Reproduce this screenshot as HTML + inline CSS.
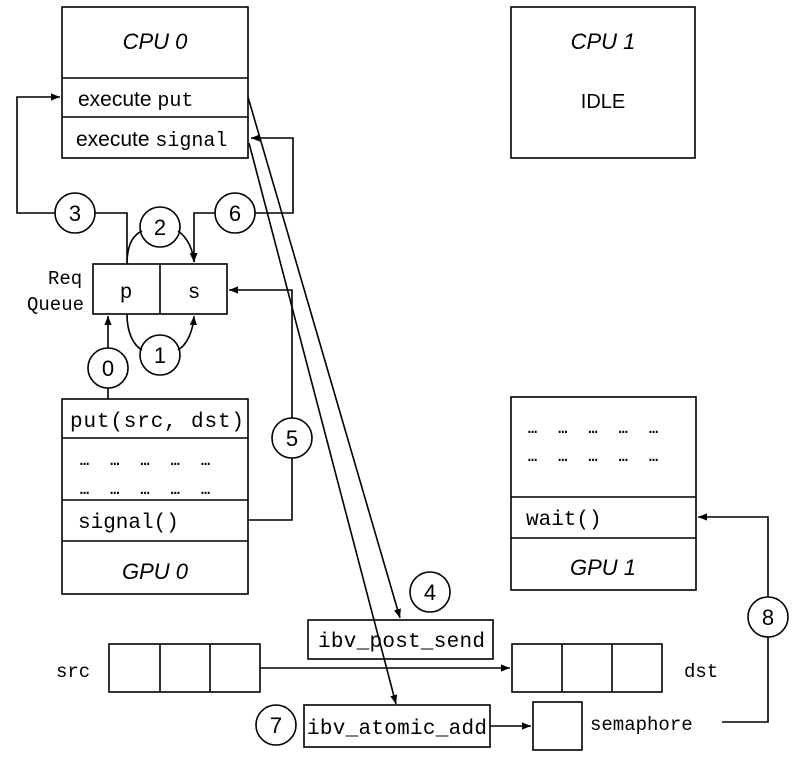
<!DOCTYPE html>
<html><head><meta charset="utf-8"><style>
body{margin:0;background:#fff}
svg{display:block}
.m{font-family:"Liberation Mono",monospace;font-size:21px}
.s{font-family:"Liberation Sans",sans-serif;font-size:21px}
.i{font-family:"Liberation Sans",sans-serif;font-size:22px;font-style:italic}
.c{font-family:"Liberation Sans",sans-serif;font-size:22px}
.d{font-family:"Liberation Mono",monospace;font-size:15px;font-weight:bold}
</style></head><body>
<svg width="796" height="760" viewBox="0 0 796 760" xmlns="http://www.w3.org/2000/svg">
<defs>
<marker id="a" viewBox="0 0 10 10" refX="10" refY="5" markerWidth="9" markerHeight="9" orient="auto" markerUnits="userSpaceOnUse"><path d="M0,1 L10,5 L0,9 z" fill="#000"/></marker>
</defs>
<g fill="none" stroke="#000" stroke-width="1.6">
<rect x="62" y="7" width="186" height="151" fill="#fff"/>
<line x1="62" y1="78" x2="248" y2="78"/>
<line x1="62" y1="117" x2="248" y2="117"/>
<rect x="511" y="7" width="184" height="151"/>
<rect x="93" y="264" width="134" height="50"/>
<line x1="160" y1="264" x2="160" y2="314"/>
<rect x="62" y="399" width="186" height="195"/>
<line x1="62" y1="438" x2="248" y2="438"/>
<line x1="62" y1="500" x2="248" y2="500"/>
<line x1="62" y1="541" x2="248" y2="541"/>
<rect x="511" y="397" width="185" height="193"/>
<line x1="511" y1="497" x2="696" y2="497"/>
<line x1="511" y1="538" x2="696" y2="538"/>
<rect x="109" y="644" width="151" height="48"/>
<line x1="160" y1="644" x2="160" y2="692"/><line x1="210" y1="644" x2="210" y2="692"/>
<rect x="512" y="644" width="150" height="48"/>
<line x1="562" y1="644" x2="562" y2="692"/><line x1="612" y1="644" x2="612" y2="692"/>
<rect x="533" y="702" width="49" height="48"/>
<rect x="308" y="620" width="185" height="39"/>
<rect x="304" y="705" width="186" height="42"/>
<circle cx="75" cy="213" r="20"/><circle cx="160" cy="227" r="20"/><circle cx="235" cy="213" r="20"/>
<circle cx="160" cy="355" r="20"/><circle cx="108" cy="368" r="20"/><circle cx="292" cy="438" r="20"/>
<circle cx="430" cy="592" r="20"/><circle cx="276" cy="725" r="20"/><circle cx="768" cy="617" r="20"/>
<polyline points="55,213 17,213 17,97 60,97" marker-end="url(#a)"/>
<polyline points="95,213 127,213 127,264"/>
<polyline points="215,213 194,213 194,262" marker-end="url(#a)"/>
<polyline points="255,213 293,213 293,138 251,138" marker-end="url(#a)"/>
<path d="M127,264 C127,245 133,235 142,231"/>
<path d="M178,231 C188,238 193,250 194,262" marker-end="url(#a)"/>
<path d="M127,314 C127,332 133,345 142,350"/>
<path d="M178,350 C188,344 193,330 194,316" marker-end="url(#a)"/>
<line x1="108" y1="348" x2="108" y2="316" marker-end="url(#a)"/>
<line x1="108" y1="388" x2="108" y2="399"/>
<polyline points="248,520 292,520 292,458"/>
<polyline points="292,418 292,290 229,290" marker-end="url(#a)"/>
<line x1="248" y1="97" x2="400" y2="618" marker-end="url(#a)"/>
<line x1="249" y1="143" x2="396" y2="704" marker-end="url(#a)"/>
<line x1="260" y1="668" x2="510" y2="668" marker-end="url(#a)"/>
<line x1="490" y1="726" x2="531" y2="726" marker-end="url(#a)"/>
<polyline points="722,722 768,722 768,637"/>
<polyline points="768,597 768,517 698,517" marker-end="url(#a)"/>
</g>
<g fill="#000">
<text class="i" x="155" y="49" text-anchor="middle">CPU 0</text>
<text class="i" x="603" y="49" text-anchor="middle">CPU 1</text>
<text class="s" x="603" y="108" text-anchor="middle" style="font-size:20px">IDLE</text>
<text class="s" x="78" y="106">execute <tspan class="m" style="font-size:20px">put</tspan></text>
<text class="s" x="76" y="146">execute <tspan class="m" style="font-size:20px">signal</tspan></text>
<text class="m" x="48" y="284" style="font-size:19px">Req</text>
<text class="m" x="27" y="310" style="font-size:19px">Queue</text>
<text class="m" x="126" y="298" text-anchor="middle">p</text>
<text class="m" x="194" y="298" text-anchor="middle">s</text>
<text class="m" x="70" y="427" textLength="174">put(src, dst)</text>
<text class="d" x="80" y="465" textLength="130">… … … … …</text>
<text class="d" x="80" y="494" textLength="130">… … … … …</text>
<text class="m" x="78" y="528">signal()</text>
<text class="i" x="155" y="579" text-anchor="middle">GPU 0</text>
<text class="d" x="528" y="433" textLength="130">… … … … …</text>
<text class="d" x="528" y="461" textLength="130">… … … … …</text>
<text class="m" x="526" y="525">wait()</text>
<text class="i" x="603" y="575" text-anchor="middle">GPU 1</text>
<text class="m" x="56" y="677" style="font-size:19px">src</text>
<text class="m" x="684" y="677" style="font-size:19px">dst</text>
<text class="m" x="590" y="730" style="font-size:19px">semaphore</text>
<text class="m" x="318" y="647" textLength="167">ibv_post_send</text>
<text class="m" x="307" y="734" textLength="180">ibv_atomic_add</text>
<g class="c" text-anchor="middle">
<text x="75" y="221">3</text><text x="160" y="235">2</text><text x="235" y="221">6</text>
<text x="160" y="363">1</text><text x="108" y="376">0</text><text x="292" y="446">5</text>
<text x="430" y="600">4</text><text x="276" y="733">7</text><text x="768" y="625">8</text>
</g>
</g>
</svg>
</body></html>
